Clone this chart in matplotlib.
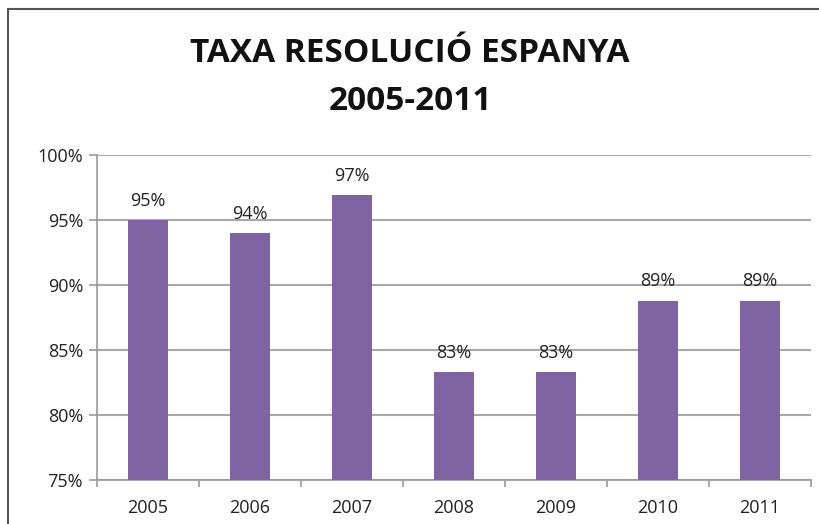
import matplotlib.pyplot as plt
from matplotlib.patches import Rectangle

# ── dades ──────────────────────────────────────────
years = ["2005", "2006", "2007", "2008", "2009", "2010", "2011"]
rates = [95.0, 94.0, 96.9, 83.3, 83.3, 88.8, 88.8]
labels = ["95%", "94%", "97%", "83%", "83%", "89%", "89%"]

plt.rcParams["font.family"] = ["Open Sans", "DejaVu Sans"]

fig = plt.figure(figsize=(8.2, 5.24), dpi=100)
ax = fig.add_axes([97 / 820, 1 - 480 / 524, (811 - 97) / 820, (480 - 155) / 524])

# marc exterior del gràfic
fig.patches.append(Rectangle((8 / 820, -0.1), 1.2, 1 - 9 / 524 + 0.1,
                             transform=fig.transFigure, fill=False,
                             edgecolor="#555555", linewidth=1.5))

x = range(len(years))
ax.bar(x, rates, width=0.4, color="#7F63A3", zorder=3)
for xi, r, lab in zip(x, rates, labels):
    ax.text(xi, r + 0.8, lab, ha="center", va="bottom", fontsize=13, color="#222222")

ax.set_ylim(75, 100)
ax.set_xlim(-0.5, len(years) - 0.5)
ax.set_yticks([75, 80, 85, 90, 95, 100])
ax.set_yticklabels(["75%", "80%", "85%", "90%", "95%", "100%"], fontsize=13, color="#222222")
ax.set_xticks(list(x))
ax.set_xticklabels(years, fontsize=13, color="#222222")
ax.set_xticks([i - 0.5 for i in range(len(years) + 1)], minor=True)
ax.tick_params(axis="x", which="major", length=0, pad=14)
ax.tick_params(axis="x", which="minor", length=5, color="#999999", width=1.2)
ax.tick_params(axis="y", length=6, color="#999999", width=1.2, pad=4)

ax.grid(axis="y", color="#A8A8A8", linewidth=1.5, zorder=0)
for side in ["top", "right"]:
    ax.spines[side].set_visible(False)
for side in ["left", "bottom"]:
    ax.spines[side].set_color("#999999")
    ax.spines[side].set_linewidth(1.2)

fig.text(0.5, 1 - 53 / 524, "TAXA RESOLUCIÓ ESPANYA", ha="center", va="center",
         fontsize=24, fontweight="bold", color="#111111")
fig.text(0.5, 1 - 102 / 524, "2005-2011", ha="center", va="center",
         fontsize=24, fontweight="bold", color="#111111")

fig.savefig("out.png", dpi=100)
